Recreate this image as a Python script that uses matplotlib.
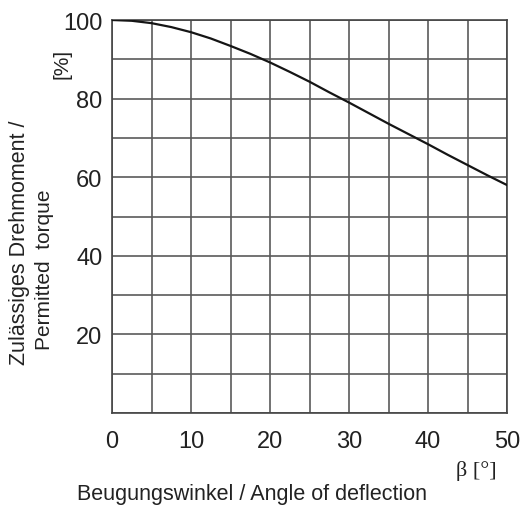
import numpy as np
import matplotlib.pyplot as plt

plt.rcParams['font.family'] = ['Liberation Sans', 'DejaVu Sans']

# data
beta = [0, 2.5, 5, 7.5, 10, 12.5, 15, 17.5, 20, 22.5, 25,
        27.5, 30, 32.5, 35, 37.5, 40, 42.5, 45, 47.5, 50]
torque = [100, 99.8, 99.2, 98.2, 96.9, 95.3, 93.4, 91.4, 89.2, 86.8, 84.3,
          81.6, 79.0, 76.3, 73.6, 71.0, 68.4, 65.7, 63.1, 60.5, 58.0]

fig = plt.figure(figsize=(5.21, 5.06), dpi=100)
ax = fig.add_axes([112 / 521, 1 - 414 / 506, 395 / 521, 393 / 506])

ax.plot(beta, torque, color='#151515', lw=1.6, zorder=3)

ax.set_xlim(0, 50)
ax.set_ylim(0, 100)
ax.set_xticks(np.arange(0, 51, 5), minor=True)
ax.set_yticks(np.arange(0, 101, 10), minor=True)
ax.set_xticks([0, 10, 20, 30, 40, 50])
ax.set_yticks([20, 40, 60, 80, 100])
ax.grid(True, which='both', color='#5a5a5a', lw=1.2)
ax.tick_params(which='both', length=0, labelsize=17, colors='#222222')
ax.tick_params(axis='x', pad=12)
ax.tick_params(axis='y', pad=7)
for s in ax.spines.values():
    s.set_color('#444444')
    s.set_linewidth(1.2)

fig.text(20 / 521, 1 - 243 / 506, 'Zulässiges Drehmoment /', rotation=90,
         ha='center', va='center', fontsize=15.5, color='#222222')
fig.text(45 / 521, 1 - 270 / 506, 'Permitted  torque', rotation=90,
         ha='center', va='center', fontsize=15, color='#222222')
fig.text(62 / 521, 1 - 64 / 506, '[%]', rotation=90,
         ha='center', va='center', fontsize=15, color='#222222')
fig.text(476 / 521, 1 - 471 / 506, 'β [°]', ha='center', va='center',
         fontsize=16, color='#222222', family=['Liberation Serif', 'DejaVu Serif'])
fig.text(252 / 521, 1 - 495 / 506, 'Beugungswinkel / Angle of deflection',
         ha='center', va='center', fontsize=15.5, color='#222222')

fig.savefig('out.png', dpi=100)
